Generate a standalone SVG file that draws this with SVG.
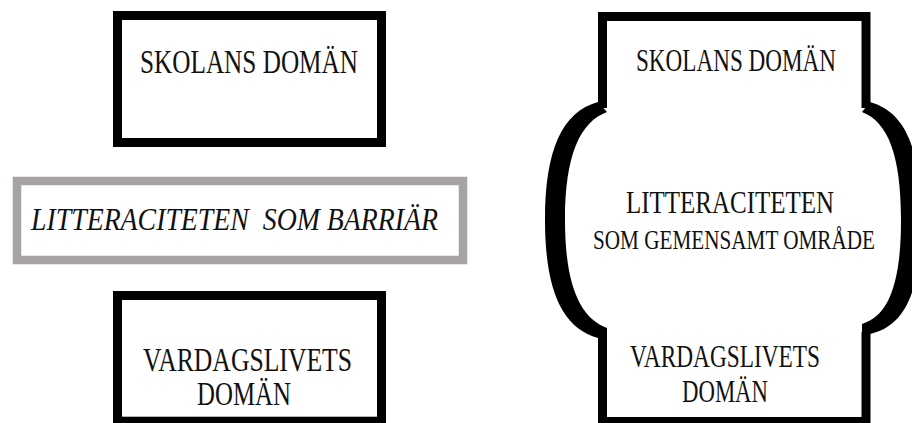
<svg xmlns="http://www.w3.org/2000/svg" width="912" height="423" viewBox="0 0 912 423">
  <style>
    .box { fill: #ffffff; stroke: #000000; stroke-width: 9; }
    .barrier { fill: #ffffff; stroke: #a7a3a4; stroke-width: 8.5; }
    .frame { fill: none; stroke: #000000; stroke-width: 9; stroke-linejoin: miter; }
    .brace { fill: #000000; stroke: none; }
    .lbl { font-family: "Liberation Serif", "Times New Roman", serif; fill: #111111; text-anchor: middle; }
    .it { font-style: italic; }
  </style>
  <rect x="0" y="0" width="912" height="423" fill="#ffffff"/>

  <!-- left column: two domains separated by literacy as a barrier -->
  <g id="school-domain">
    <rect class="box" x="117.5" y="15.5" width="264" height="127"/>
    <text class="lbl" x="249" y="73" font-size="33" textLength="218" lengthAdjust="spacingAndGlyphs">SKOLANS DOMÄN</text>
  </g>

  <g id="literacy-barrier">
    <rect class="barrier" x="17" y="181" width="446" height="79"/>
    <text class="lbl it" x="234.5" y="230" font-size="32" xml:space="preserve" textLength="407" lengthAdjust="spacingAndGlyphs">LITTERACITETEN  SOM BARRIÄR</text>
  </g>

  <g id="everyday-domain">
    <rect class="box" x="117.5" y="295.5" width="264" height="125.7"/>
    <text class="lbl" x="247.5" y="371" font-size="33" textLength="209" lengthAdjust="spacingAndGlyphs">VARDAGSLIVETS</text>
    <text class="lbl" x="244" y="405" font-size="33" textLength="94" lengthAdjust="spacingAndGlyphs">DOMÄN</text>
  </g>

  <!-- right column: one shape where literacy is the shared area -->
  <g id="shared-area">
    <path class="frame" d="M602.5,108 V16.5 H866 V108"/>
    <path class="frame" d="M602.5,332 V421.5 H866 V332"/>
    <path class="brace" d="M598,102 C562,112 545,150 545,220 C545,290 562,328 598,338 L607,338 L607,328 C580,318 565,285 565,220 C565,155 580,122 607,112 Z"/>
    <path class="brace" d="M870,102 C906,112 921,150 921,220 C921,290 906,326 870,334 L862,334 L862,324 C888,316 901,285 901,220 C901,155 888,122 862,112 Z"/>
    <text class="lbl" x="736" y="71" font-size="31" textLength="200" lengthAdjust="spacingAndGlyphs">SKOLANS DOMÄN</text>
    <text class="lbl" x="730" y="213" font-size="32" textLength="208" lengthAdjust="spacingAndGlyphs">LITTERACITETEN</text>
    <text class="lbl" x="734" y="249" font-size="28" textLength="282" lengthAdjust="spacingAndGlyphs">SOM GEMENSAMT OMRÅDE</text>
    <text class="lbl" x="725" y="367" font-size="31" textLength="190" lengthAdjust="spacingAndGlyphs">VARDAGSLIVETS</text>
    <text class="lbl" x="725" y="402" font-size="31" textLength="86" lengthAdjust="spacingAndGlyphs">DOMÄN</text>
  </g>
</svg>
